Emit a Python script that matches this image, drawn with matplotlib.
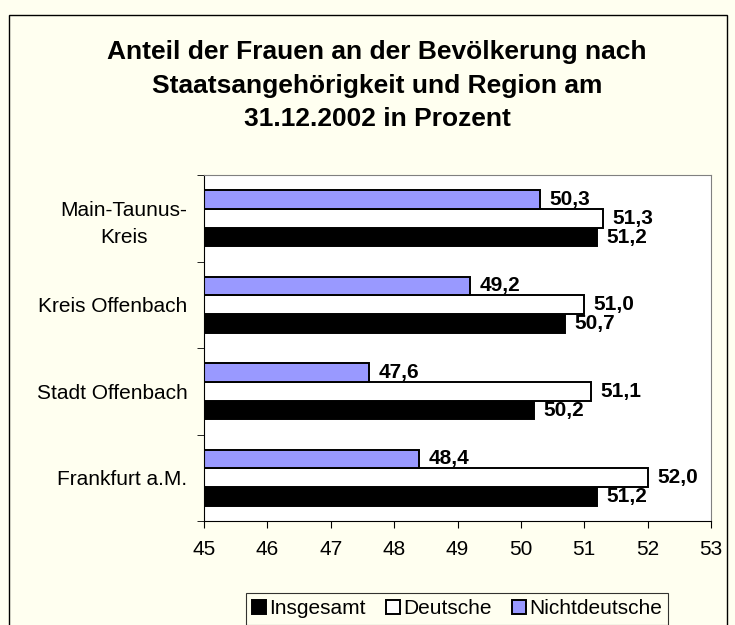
import numpy as np
import matplotlib.pyplot as plt
from matplotlib.patches import Rectangle

regions = ['Frankfurt a.M.', 'Stadt Offenbach', 'Kreis Offenbach', 'Main-Taunus-\nKreis']
insgesamt = [51.2, 50.2, 50.7, 51.2]
deutsche = [52.0, 51.1, 51.0, 51.3]
nichtdeutsche = [48.4, 47.6, 49.2, 50.3]
series = ['Insgesamt', 'Deutsche', 'Nichtdeutsche']
colors = ['#000000', '#FFFFFF', '#9999FF']

plt.rcParams['font.family'] = ['Liberation Sans', 'DejaVu Sans']

fig = plt.figure(figsize=(7.35, 6.25), dpi=100)
fig.patch.set_facecolor('#FFFFF0')
fig.patches.append(Rectangle((9/735, -0.1), 718/735, 1 - 15/625 + 0.1,
                             transform=fig.transFigure, fill=False,
                             edgecolor='#000000', lw=1))

ax = fig.add_axes([204/735, 1-521/625, 507/735, 346/625])
ax.set_facecolor('white')

y = np.arange(len(regions))
h = 0.217
vals = [insgesamt, deutsche, nichtdeutsche]
for i, (name, v, c) in enumerate(zip(series, vals, colors)):
    pos = y + (i - 1) * h
    ax.barh(pos, np.array(v) - 45, left=45, height=h, color=c,
            edgecolor='black', lw=1.4, label=name)
    for p, val in zip(pos, v):
        ax.text(val + 0.15, p, '{:.1f}'.format(val).replace('.', ','),
                va='center', ha='left', fontsize=15, fontweight='bold')

ax.set_xlim(45, 53)
ax.set_ylim(-0.5, 3.5)
ax.set_xticks(range(45, 54))
ax.tick_params(axis='x', labelsize=15, length=5, direction='out', pad=9)
ax.set_yticks(y)
ax.set_yticklabels(regions, fontsize=15, ha='right', multialignment='center',
                   linespacing=1.5)
ax.tick_params(axis='y', which='major', length=0, pad=12)
ax.set_yticks(np.arange(-0.5, 4.0, 1.0), minor=True)
ax.tick_params(axis='y', which='minor', length=5, direction='out')

for s in ['top', 'right']:
    ax.spines[s].set_color('#808080')
for s in ['left', 'bottom']:
    ax.spines[s].set_color('black')

fig.text(377/735, 1-86/625,
         'Anteil der Frauen an der Bevölkerung nach\nStaatsangehörigkeit und Region am\n31.12.2002 in Prozent',
         ha='center', va='center', fontsize=19, fontweight='bold', linespacing=1.5)

leg = fig.legend(loc='center', bbox_to_anchor=(457/735, 1-609/625), ncol=3,
                 fontsize=15, frameon=True, fancybox=False, edgecolor='black',
                 handlelength=0.65, handleheight=0.65, handletextpad=0.15,
                 columnspacing=1.0, borderpad=0.3, borderaxespad=0)
leg.get_frame().set_linewidth(0.8)
leg.get_frame().set_facecolor('#FFFFF0')

plt.savefig('out.png', dpi=100, facecolor=fig.get_facecolor())
